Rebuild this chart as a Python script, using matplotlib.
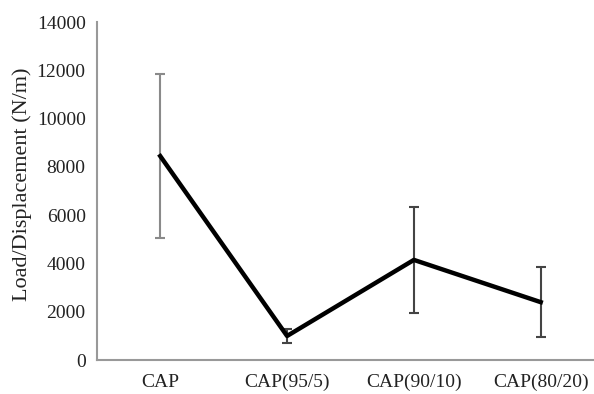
import matplotlib
matplotlib.use('Agg')
import matplotlib.pyplot as plt

plt.rcParams['font.family'] = ['Liberation Serif', 'DejaVu Serif']

groups = ['CAP', 'CAP(95/5)', 'CAP(90/10)', 'CAP(80/20)']
stiffness = [8450, 1000, 4150, 2400]
err = [3400, 300, 2200, 1450]
bar_colors = ['#8a8a8a', '#444444', '#444444', '#444444']

fig = plt.figure(figsize=(5.94, 3.94), dpi=100)
ax = fig.add_axes([0.163, 0.086, 0.837, 0.858])

x = list(range(len(groups)))
for xi, yi, ei, c in zip(x, stiffness, err, bar_colors):
    ax.errorbar(xi, yi, yerr=ei, fmt='none', ecolor=c,
                elinewidth=1.5, capsize=3.5, capthick=1.5, zorder=2)
ax.plot(x, stiffness, color='black', lw=3.2, zorder=3)

ax.set_xlim(-0.5, 3.42)
ax.set_ylim(0, 14000)
ax.set_yticks(range(0, 14001, 2000))
ax.set_xticks(x)
ax.set_xticklabels(groups)
ax.tick_params(length=0, labelsize=14, colors='#222222')
ax.tick_params(axis='x', pad=10)
ax.tick_params(axis='y', pad=8)
ax.set_ylabel('Load/Displacement (N/m)', fontsize=16, color='#222222', labelpad=3)
ax.yaxis.set_label_coords(-0.13, 0.52)

for s in ['top', 'right']:
    ax.spines[s].set_visible(False)
for s in ['left', 'bottom']:
    ax.spines[s].set_color('#999999')
    ax.spines[s].set_linewidth(1.5)

fig.savefig('out.png', dpi=100)
